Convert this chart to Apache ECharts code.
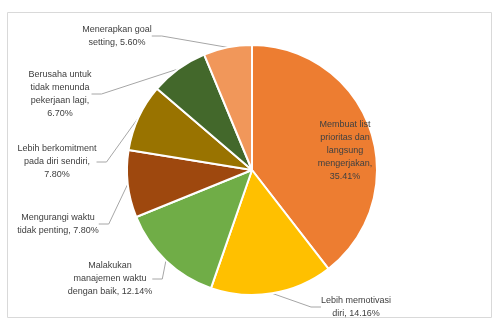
<!DOCTYPE html>
<html><head><meta charset="utf-8">
<script src="https://cdn.jsdelivr.net/npm/echarts@6/dist/echarts.min.js"></script>
<style>html,body{margin:0;padding:0;background:#fff}#c{width:494px;height:320px}</style>
</head><body><div id="c"></div>
<script>
var categories = [
  'Membuat list\nprioritas dan\nlangsung\nmengerjakan,',
  'Lebih memotivasi\ndiri,',
  'Malakukan\nmanajemen waktu\ndengan baik,',
  'Mengurangi waktu\ntidak penting,',
  'Lebih berkomitment\npada diri sendiri,',
  'Berusaha untuk\ntidak menunda\npekerjaan lagi,',
  'Menerapkan goal\nsetting,'
];
var values = [35.41, 14.16, 12.14, 7.80, 7.80, 6.70, 5.60];
var colors = ['#ED7D31', '#FFC000', '#70AD47', '#9E480E', '#997300', '#43682B', '#F1975A'];
// label anchor positions (centre of each label block)
var labelPos = [[345, 151], [356, 307], [110, 279], [58, 224], [57, 162], [60, 94], [117, 36]];
var sep = ['\n', ' ', ' ', ' ', '\n', '\n', ' '];

var chart = echarts.init(document.getElementById('c'), null, {renderer: 'canvas'});
var data = values.map(function (v, i) {
  return {
    name: categories[i], value: v,
    itemStyle: {color: colors[i]},
    label: {position: i === 0 ? 'inside' : 'outside'},
    labelLine: {show: i !== 0}
  };
});
chart.setOption({
  animation: false,
  graphic: [{type: 'rect', shape: {x: 7.5, y: 12.5, width: 484, height: 305}, style: {fill: 'none', stroke: '#d9d9d9', lineWidth: 1}, z: -1}],
  series: [{
    type: 'pie',
    center: [252, 170],
    radius: [0, 125],
    startAngle: 90,
    clockwise: true,
    data: data,
    itemStyle: {borderColor: '#fff', borderWidth: 2},
    label: {
      formatter: function (p) { return p.name + sep[p.dataIndex] + p.value.toFixed(2) + '%'; },
      color: '#404040', fontSize: 9, lineHeight: 13, align: 'center',
      fontFamily: 'Liberation Sans'
    },
    labelLine: {lineStyle: {color: '#a6a6a6', width: 1}, length: 10, length2: 10},
    labelLayout: function (p) {
      var pos = labelPos[p.dataIndex];
      return {x: pos[0], y: pos[1], align: 'center', verticalAlign: 'middle'};
    }
  }]
});
</script></body></html>
